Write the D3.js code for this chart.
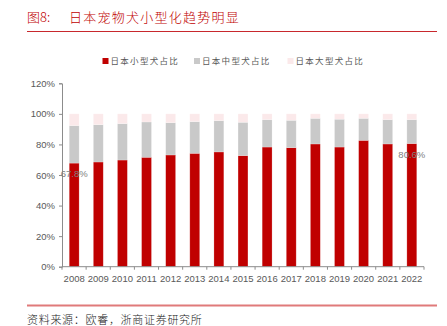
<!DOCTYPE html>
<html>
<head>
<meta charset="utf-8">
<script src="https://cdn.jsdelivr.net/npm/d3@7"></script>
<style>
  html, body { margin: 0; padding: 0; background: #fff; }
  svg { display: block; }
  text { font-family: "Noto Sans CJK SC", "DejaVu Sans", sans-serif; }
</style>
</head>
<body>
<script>
// Share of pet dogs in Japan by size, 2008–2022
const years = ["2008","2009","2010","2011","2012","2013","2014","2015","2016","2017","2018","2019","2020","2021","2022"];
const smallShare  = [67.8, 68.5, 69.8, 71.6, 73.1, 74.2, 75.1, 72.7, 78.3, 77.9, 80.3, 78.3, 82.7, 80.3, 80.6];
const mediumShare = [24.5, 24.4, 23.8, 23.1, 21.1, 20.7, 20.5, 21.8, 17.9, 17.9, 16.8, 18.2, 14.4, 15.9, 15.6];
const largeShare  = smallShare.map((s, i) => +(100 - s - mediumShare[i]).toFixed(1));
const seriesNames = ["日本小型犬占比", "日本中型犬占比", "日本大型犬占比"];
const seriesColors = ["#c00000", "#c9c9c9", "#fbe9ea"];
const yTicks = [0, 20, 40, 60, 80, 100, 120];
const labelled = [{ i: 0, v: 67.8 }, { i: 14, v: 80.6 }];

const W = 447, H = 326;
const svg = d3.select("body").append("svg").attr("width", W).attr("height", H);

// Heading
svg.append("text").attr("x", 27).attr("y", 22)
  .attr("fill", "#c00000").attr("font-size", 13).attr("font-weight", 300)
  .text("图8:");
svg.append("text").attr("x", 69).attr("y", 22)
  .attr("fill", "#c00000").attr("font-size", 13).attr("font-weight", 300).attr("letter-spacing", 1.25)
  .text("日本宠物犬小型化趋势明显");
svg.append("line").attr("x1", 27).attr("x2", 437).attr("y1", 31.5).attr("y2", 31.5)
  .attr("stroke", "#c8282d").attr("stroke-width", 1);

// Footer
svg.append("line").attr("x1", 27).attr("x2", 437).attr("y1", 305.5).attr("y2", 305.5)
  .attr("stroke", "#e07a7a").attr("stroke-width", 2);
svg.append("text").attr("x", 27).attr("y", 324)
  .attr("fill", "#222").attr("font-size", 11).attr("font-weight", 300).attr("letter-spacing", 0.7)
  .text("资料来源：欧睿，浙商证券研究所");

// Plot area
const x0 = 62, x1 = 424, yTop = 83.3, yBot = 266.7;
const x = d3.scaleBand().domain(years).range([x0, x1]).paddingInner(0.59).paddingOuter(0.3);
const y = d3.scaleLinear().domain([0, 120]).range([yBot, yTop]);

const stackData = years.map((yr, i) => ({ year: yr, s0: smallShare[i], s1: mediumShare[i], s2: largeShare[i] }));
const stacked = d3.stack().keys(["s0", "s1", "s2"])(stackData);

svg.append("g").selectAll("g").data(stacked).join("g")
  .attr("fill", (d, i) => seriesColors[i])
  .selectAll("rect").data(d => d).join("rect")
  .attr("x", d => x(d.data.year))
  .attr("width", x.bandwidth())
  .attr("y", d => y(d[1]))
  .attr("height", d => y(d[0]) - y(d[1]))
  .attr("stroke", "#fff").attr("stroke-opacity", 0.35).attr("stroke-width", 0.6);

// Y axis
const yAxis = svg.append("g").attr("transform", `translate(${x0},0)`)
  .call(d3.axisLeft(y).tickValues(yTicks).tickFormat(d => d + "%").tickSize(3).tickPadding(4));
yAxis.select(".domain").attr("stroke", "#8c8c8c");
yAxis.selectAll(".tick line").attr("stroke", "#8c8c8c");
yAxis.selectAll(".tick text").attr("fill", "#595959").attr("font-size", 9.5)
  .style("font-family", "'Liberation Sans', Arial, sans-serif");

// X axis with ticks between categories
const xAxisG = svg.append("g").attr("transform", `translate(0,${yBot})`);
xAxisG.append("line").attr("x1", x0).attr("x2", x1).attr("stroke", "#8c8c8c");
xAxisG.selectAll("line.sep").data(d3.range(years.length + 1)).join("line")
  .attr("class", "sep")
  .attr("x1", i => x0 + i * (x1 - x0) / years.length)
  .attr("x2", i => x0 + i * (x1 - x0) / years.length)
  .attr("y1", 0).attr("y2", 3).attr("stroke", "#8c8c8c");
xAxisG.selectAll("text").data(years).join("text")
  .attr("x", d => x(d) + x.bandwidth() / 2).attr("y", 15)
  .attr("text-anchor", "middle").attr("fill", "#595959").attr("font-size", 9.5)
  .style("font-family", "'Liberation Sans', Arial, sans-serif")
  .text(d => d);

// Value labels
svg.append("g").selectAll("text").data(labelled).join("text")
  .attr("x", d => x(years[d.i]) + x.bandwidth() / 2)
  .attr("y", d => y(d.v) + 14)
  .attr("text-anchor", "middle").attr("fill", "#7f7f7f").attr("font-size", 9.5)
  .style("font-family", "'Liberation Sans', Arial, sans-serif")
  .text(d => d.v.toFixed(1) + "%");

// Legend
const legendX = [102.5, 194, 287.5];
const lg = svg.append("g").selectAll("g").data(seriesNames).join("g")
  .attr("transform", (d, i) => `translate(${legendX[i]},61)`);
lg.append("rect").attr("x", 0).attr("y", -3).attr("width", 6).attr("height", 6)
  .attr("fill", (d, i) => seriesColors[i]);
lg.append("text").attr("x", 8).attr("y", 3.3)
  .attr("fill", "#595959").attr("font-size", 8.5).attr("letter-spacing", 1.3)
  .text(d => d);
</script>
</body>
</html>
